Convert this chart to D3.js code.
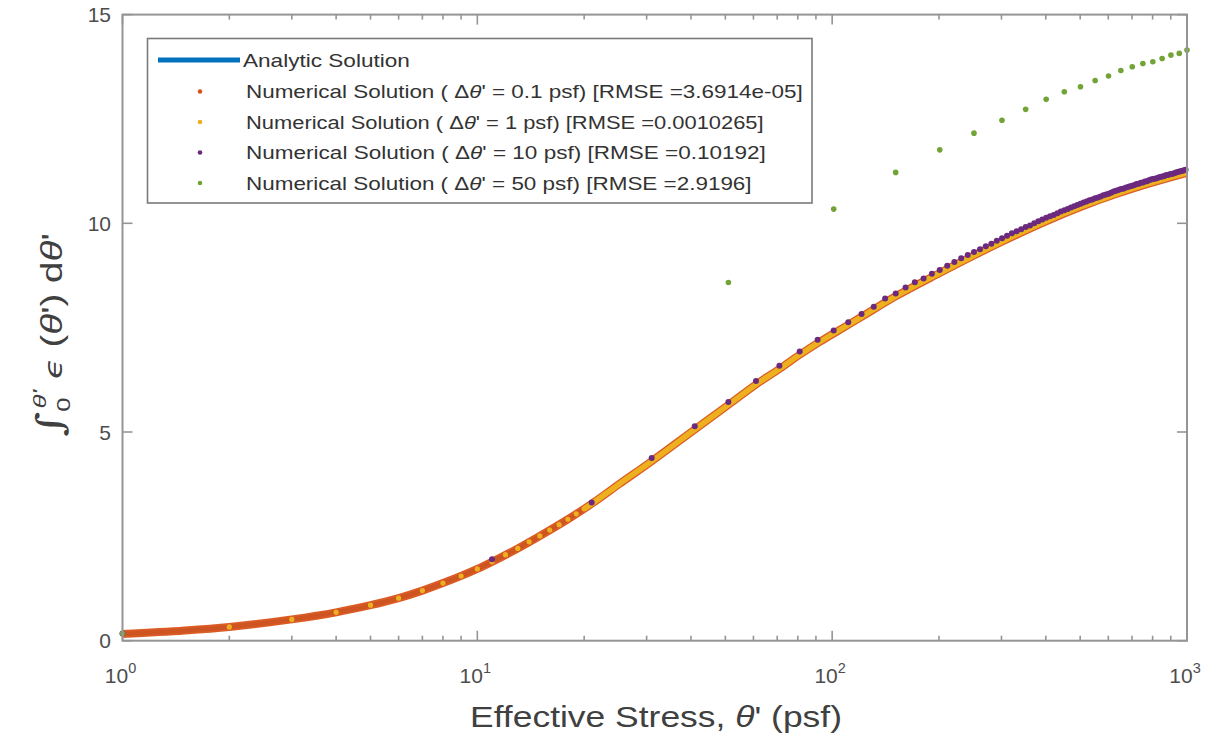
<!DOCTYPE html>
<html><head><meta charset="utf-8">
<script src="https://cdn.jsdelivr.net/npm/d3@7"></script>
<style>body{margin:0;background:#fff} svg{display:block} text{font-family:"Liberation Sans",Arial,sans-serif}</style>
</head><body><svg id="c" width="1213" height="740"></svg>
<script>
// ---- data ----
const analyticX = [1, 1.5, 2, 3, 4, 5, 6, 7, 8, 10, 11, 13, 15, 18, 21, 25, 31, 41, 51, 61, 71, 81, 91, 101, 121, 151, 201, 251, 301, 401, 501, 631, 801, 1000];
const analyticY = [0.16, 0.245, 0.33, 0.51, 0.68, 0.85, 1.02, 1.2, 1.38, 1.72, 1.89, 2.21, 2.51, 2.91, 3.28, 3.74, 4.30, 5.06, 5.65, 6.14, 6.51, 6.85, 7.13, 7.36, 7.76, 8.25, 8.81, 9.23, 9.56, 10.05, 10.39, 10.70, 10.98, 11.21];

// dense series (step 0.1 psf): markers merge into a band
const fine01X = [1, 1.5, 2, 3, 4, 5, 6, 7, 8, 10, 11, 13, 15, 18, 21, 25, 31, 41, 51, 61, 71, 81, 91, 101, 121, 151, 201, 251, 301, 401, 501, 631, 801, 1000];
const fine01Y = [0.16, 0.245, 0.33, 0.51, 0.68, 0.85, 1.02, 1.2, 1.38, 1.72, 1.89, 2.21, 2.51, 2.91, 3.28, 3.74, 4.30, 5.06, 5.65, 6.14, 6.51, 6.85, 7.13, 7.36, 7.76, 8.25, 8.81, 9.23, 9.56, 10.05, 10.39, 10.70, 10.98, 11.21];

// step 1 psf: separate dots at low stress, merged band above
const step1X = [1, 2, 3, 4, 5, 6, 7, 8, 9, 10, 11, 12, 13, 14, 15, 16, 17, 18, 19, 20, 21, 22, 23, 24, 25, 31, 41, 51, 61, 71, 81, 91, 101, 121, 151, 201, 251, 301, 401, 501, 631, 801, 1000];
const step1Y = [0.16, 0.33, 0.51, 0.68, 0.85, 1.02, 1.2, 1.38, 1.55, 1.72, 1.89, 2.06, 2.21, 2.37, 2.51, 2.65, 2.78, 2.91, 3.04, 3.16, 3.28, 3.40, 3.52, 3.63, 3.74, 4.30, 5.06, 5.65, 6.14, 6.51, 6.85, 7.13, 7.36, 7.76, 8.25, 8.81, 9.23, 9.56, 10.05, 10.39, 10.70, 10.98, 11.21];
const step1DotMax = 25;

// step 10 psf
const step10X = d3.range(1, 1000, 10);
const step10Y = [0.17, 1.95, 3.31, 4.38, 5.14, 5.72, 6.22, 6.59, 6.93, 7.21,
  7.43, 7.63, 7.83, 8.00, 8.20, 8.32, 8.46, 8.59, 8.68, 8.79,
  8.88, 8.98, 9.07, 9.16, 9.24, 9.31, 9.38, 9.45, 9.51, 9.58,
  9.64, 9.70, 9.76, 9.81, 9.86, 9.91, 9.95, 10.00, 10.05, 10.09,
  10.13, 10.17, 10.20, 10.24, 10.28, 10.31, 10.34, 10.38, 10.41, 10.44,
  10.47, 10.50, 10.52, 10.55, 10.57, 10.60, 10.62, 10.64, 10.67, 10.69,
  10.71, 10.73, 10.76, 10.78, 10.80, 10.82, 10.83, 10.85, 10.87, 10.89,
  10.90, 10.92, 10.94, 10.95, 10.97, 10.98, 11.00, 11.01, 11.03, 11.05,
  11.06, 11.07, 11.08, 11.10, 11.11, 11.12, 11.13, 11.15, 11.16, 11.17,
  11.18, 11.19, 11.20, 11.22, 11.23, 11.24, 11.25, 11.26, 11.27, 11.28];

// step 50 psf
const step50X = [1, 51, 101, 151, 201, 251, 301, 351, 401, 451, 501, 551, 601, 651, 701, 751, 801, 851, 901, 951, 1000];
const step50Y = [0.17, 8.58, 10.34, 11.22, 11.76, 12.16, 12.47, 12.73, 12.97, 13.15, 13.27, 13.42, 13.53, 13.66, 13.75, 13.83, 13.87, 13.95, 14.03, 14.07, 14.15];

const xMajor = [1, 10, 100, 1000];
const xMajorExp = ["0", "1", "2", "3"];
const yTicks = [0, 5, 10, 15];

const legendItems = [
  {type: "line", color: "#0072BD", pre: "Analytic Solution", theta: "", post: ""},
  {type: "dot", color: "#D95319", pre: "Numerical Solution ( Δ", theta: "θ", post: "' = 0.1 psf) [RMSE =3.6914e-05]"},
  {type: "dot", color: "#EDB120", pre: "Numerical Solution ( Δ", theta: "θ", post: "' = 1 psf) [RMSE =0.0010265]"},
  {type: "dot", color: "#6b2a7e", pre: "Numerical Solution ( Δ", theta: "θ", post: "' = 10 psf) [RMSE =0.10192]"},
  {type: "dot", color: "#72a336", pre: "Numerical Solution ( Δ", theta: "θ", post: "' = 50 psf) [RMSE =2.9196]"}
];
const legendWidths = [167, 557, 518, 520, 506];

// ---- drawing ----
const svg = d3.select("#c");
const L = 122.5, R = 1187, T = 14.6, B = 640.7;
const x = d3.scaleLog().domain([1, 1000]).range([L, R]);
const y = d3.scaleLinear().domain([0, 15]).range([B, T]);

function fitX(sel, target, x0) {
  const w = sel.node().getComputedTextLength();
  const s = target / w;
  sel.attr("transform", `translate(${x0},0) scale(${s},1) translate(${-x0},0)`);
}

svg.append("defs").append("clipPath").attr("id", "clip")
  .append("rect").attr("x", L - 4).attr("y", T - 4).attr("width", R - L + 8).attr("height", B - T + 8);
const plot = svg.append("g").attr("clip-path", "url(#clip)");

const line = d3.line().x(d => x(d[0])).y(d => y(d[1])).curve(d3.curveMonotoneX);

plot.append("path").datum(d3.zip(analyticX, analyticY)).attr("d", line)
  .attr("fill", "none").attr("stroke", "#0072BD").attr("stroke-width", 4.5);

plot.append("path").datum(d3.zip(fine01X, fine01Y)).attr("d", line)
  .attr("fill", "none").attr("stroke", "#D95319").attr("stroke-width", 8).attr("stroke-opacity", 0.95);

const s1 = d3.zip(step1X, step1Y);
plot.append("path").datum(s1.filter(d => d[0] >= 20)).attr("d", line)
  .attr("fill", "none").attr("stroke", "#EDB120").attr("stroke-width", 5.5);
plot.selectAll(".s1").data(s1.filter(d => d[0] <= step1DotMax)).join("circle")
  .attr("cx", d => x(d[0])).attr("cy", d => y(d[1])).attr("r", 2.6).attr("fill", "#EDB120");

plot.selectAll(".s10").data(d3.zip(step10X, step10Y)).join("circle")
  .attr("cx", d => x(d[0])).attr("cy", d => y(d[1])).attr("r", 3).attr("fill", "#6b2a7e");

plot.selectAll(".s50").data(d3.zip(step50X, step50Y)).join("circle")
  .attr("cx", d => x(d[0])).attr("cy", d => y(d[1])).attr("r", 2.8).attr("fill", "#72a336");

// axes box and ticks
const axisColor = "#959595";
const ax = svg.append("g").attr("stroke", axisColor).attr("stroke-width", 1.6);
const minor = [];
[1, 10, 100].forEach(d => { for (let k = 2; k <= 9; k++) minor.push(d * k); });
xMajor.forEach(v => {
  ax.append("line").attr("x1", x(v)).attr("x2", x(v)).attr("y1", B).attr("y2", B - 10);
  ax.append("line").attr("x1", x(v)).attr("x2", x(v)).attr("y1", T).attr("y2", T + 10);
});
minor.forEach(v => {
  ax.append("line").attr("x1", x(v)).attr("x2", x(v)).attr("y1", B).attr("y2", B - 5);
  ax.append("line").attr("x1", x(v)).attr("x2", x(v)).attr("y1", T).attr("y2", T + 5);
});
yTicks.forEach(v => {
  ax.append("line").attr("x1", L).attr("x2", L + 10).attr("y1", y(v)).attr("y2", y(v));
  ax.append("line").attr("x1", R).attr("x2", R - 10).attr("y1", y(v)).attr("y2", y(v));
});
svg.append("rect").attr("x", L).attr("y", T).attr("width", R - L).attr("height", B - T)
  .attr("fill", "none").attr("stroke", axisColor).attr("stroke-width", 2);

// tick labels
const tickColor = "#4d4d4d";
xMajor.forEach((v, i) => {
  const t = svg.append("text").attr("x", x(v) - 2).attr("y", 683).attr("text-anchor", "middle")
    .attr("font-size", 21).attr("fill", tickColor);
  t.append("tspan").text("10");
  t.append("tspan").attr("dy", -10).attr("font-size", 14.5).text(xMajorExp[i]);
});
yTicks.forEach(v => {
  svg.append("text").attr("x", 111).attr("y", y(v) + 7.5).attr("text-anchor", "end")
    .attr("font-size", 21).attr("fill", tickColor).text(v);
});

// x label
const xl = svg.append("text").attr("x", 656).attr("y", 727).attr("text-anchor", "middle")
  .attr("font-size", 29).attr("fill", "#404040");
xl.append("tspan").text("Effective Stress, ");
xl.append("tspan").attr("font-style", "italic").text("θ");
xl.append("tspan").text("' (psf)");
fitX(xl, 372, 656);

// y label
const yg = svg.append("g");
const yl = yg.append("text").attr("x", 0).attr("y", 0).attr("text-anchor", "middle")
  .attr("font-size", 24).attr("fill", "#404040");
yl.append("tspan").attr("font-size", 30).attr("font-family", "DejaVu Serif").text("∫");
yl.append("tspan").attr("font-size", 16).attr("dy", 7).text("0");
yl.append("tspan").attr("font-size", 16).attr("dy", -20).attr("dx", -7).attr("font-style", "italic").text("θ'");
yl.append("tspan").attr("dy", 13).text(" ");
yl.append("tspan").attr("font-style", "italic").attr("font-family", "DejaVu Sans").attr("font-size", 21).text("ϵ");
yl.append("tspan").text(" (");
yl.append("tspan").attr("font-style", "italic").text("θ");
yl.append("tspan").text("') d");
yl.append("tspan").attr("font-style", "italic").text("θ");
yl.append("tspan").text("'");
const ylw = yl.node().getComputedTextLength();
yg.attr("transform", `translate(62,335) rotate(-90) scale(${215 / ylw},1.2)`);

// legend
const lg = svg.append("g");
lg.append("rect").attr("x", 147.5).attr("y", 38.5).attr("width", 664.5).attr("height", 164.5)
  .attr("fill", "#fff").attr("stroke", "#7a7a7a").attr("stroke-width", 1.6);
const rowY = [60, 91.5, 122, 152.5, 183];
legendItems.forEach((it, i) => {
  const cy = rowY[i];
  if (it.type === "line") {
    lg.append("line").attr("x1", 158).attr("x2", 240).attr("y1", cy).attr("y2", cy)
      .attr("stroke", it.color).attr("stroke-width", 5);
  } else {
    lg.append("circle").attr("cx", 200).attr("cy", cy).attr("r", 2.3).attr("fill", it.color);
  }
  const tx = it.type === "line" ? 243 : 246;
  const t = lg.append("text").attr("x", tx).attr("y", cy + 7).attr("font-size", 18.5).attr("fill", "#333");
  t.append("tspan").text(it.pre);
  if (it.theta) {
    t.append("tspan").attr("font-style", "italic").text(it.theta);
    t.append("tspan").text(it.post);
  }
  fitX(t, legendWidths[i], tx);
});
</script></body></html>
